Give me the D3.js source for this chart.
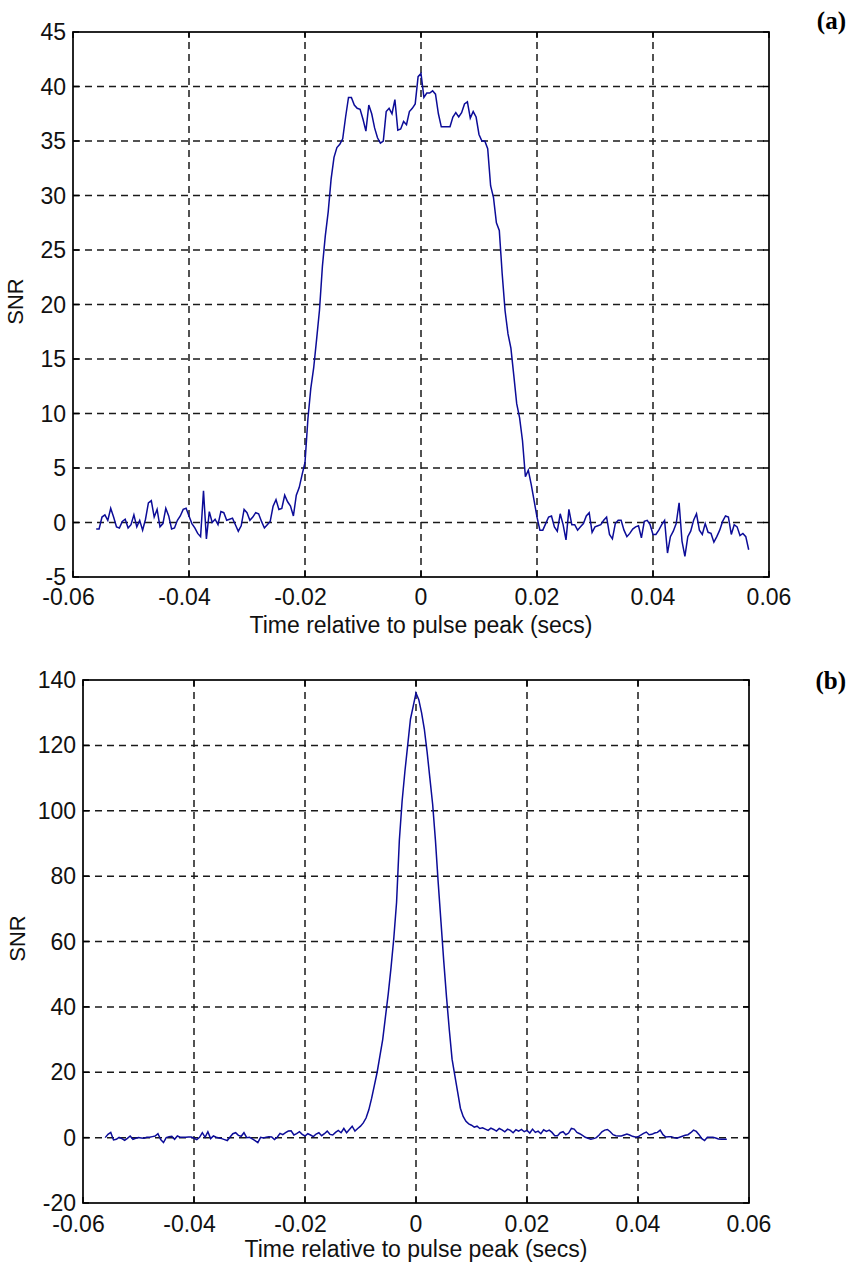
<!DOCTYPE html>
<html><head><meta charset="utf-8">
<script src="https://cdn.jsdelivr.net/npm/d3@7/dist/d3.min.js"></script>
<style>body{margin:0;background:#fff;} svg{display:block;}</style>
</head><body>
<svg id="c" width="850" height="1265"></svg>
<script>
// sampling of the time axis (secs)
const tStart = -0.056, tStep = 0.0005;

// panel (a) SNR samples
const snrA = [
-0.6,-0.6,0.5,0.7,0.2,1.3,0.5,-0.4,-0.5,0.1,
0.3,-0.5,-0.2,0.7,-0.4,0.2,-0.7,0.3,1.8,2.0,
0.5,1.2,-0.4,-0.1,1.3,0.6,-0.6,-0.5,0.2,0.6,
1.2,1.3,0.6,-0.1,-0.5,-1.0,-1.3,2.9,-1.5,1.0,
0.0,0.3,-0.2,1.0,0.9,0.2,0.3,0.4,-0.2,-0.8,
-0.3,1.2,0.9,0.2,0.5,0.9,0.8,0.1,-0.5,-0.2,
0.1,1.5,2.1,1.2,1.3,2.5,1.9,1.5,0.6,2.5,
3.2,4.4,5.5,9.5,12.3,14.2,16.8,19.5,23.5,26.3,
28.5,31.5,33.5,34.4,34.7,35.2,37.2,39.0,39.0,38.3,
38.0,37.9,37.0,35.9,38.3,37.5,36.2,35.3,34.8,35.0,
37.7,38.0,37.5,38.8,36.0,36.1,36.8,36.5,37.7,38.0,
38.4,40.9,41.2,39.0,39.4,39.4,39.6,39.3,37.5,36.3,
36.3,36.3,36.3,37.2,37.6,37.2,37.6,38.4,38.6,37.1,
37.7,37.2,35.6,35.0,35.0,34.3,30.9,29.8,27.5,26.8,
22.8,19.4,17.3,16.0,13.5,10.9,9.6,7.5,4.2,4.8,
3.5,2.0,0.5,-0.7,-0.7,-0.1,0.5,0.6,-0.4,-0.8,
0.8,-0.2,-1.6,1.2,-0.2,-0.2,-0.7,-0.4,-0.1,0.6,
0.9,-0.9,-0.4,-0.3,-0.2,0.2,0.5,-1.1,-1.5,-0.1,
0.2,0.2,-0.7,-1.3,-1.0,-0.6,-0.4,-0.3,-1.4,0.1,
0.2,-0.2,-1.1,-1.1,-0.7,-0.2,0.2,-2.8,-1.3,-0.8,
-0.1,1.8,-1.7,-3.1,-1.3,-0.8,0.2,0.8,-0.7,-1.1,
-0.1,-0.9,-1.0,-1.8,-1.3,-0.7,0.1,0.6,0.5,-1.1,
-0.2,-0.4,-1.2,-1.0,-1.3,-2.5
];

// panel (b) SNR samples
const snrB = [
0.0,1.0,1.6,-0.7,-0.5,0.1,-0.3,-0.8,-0.2,0.5,
-0.5,-0.2,0.0,-0.1,-0.2,0.1,0.1,0.3,0.5,1.2,
-0.6,-1.5,0.0,0.3,0.4,-0.5,0.5,0.1,0.1,0.1,
0.2,0.2,-0.2,-0.6,0.1,1.5,0.1,1.8,-0.3,0.5,
0.1,-0.1,-0.3,-0.6,-0.9,0.2,1.2,1.5,0.7,0.4,
1.5,0.0,0.1,-0.4,-0.9,-1.5,0.1,-0.1,0.1,0.3,
0.2,-0.6,0.1,1.3,0.9,1.5,2.0,2.1,0.8,1.2,
1.8,1.0,0.5,1.2,0.8,0.3,1.1,1.5,0.6,1.2,
2.0,1.0,0.8,1.6,2.2,1.5,2.8,1.5,2.5,3.5,
2.0,2.8,3.5,4.5,6.0,8.5,12,16,20,25,
30,37,44,52,61,72,91,103,112,120,
128,132,136,134,130,125,118,110,102,91,
78,66,54,43,33,24,19,14,9,6.5,
5.0,4.2,3.8,3.2,3.5,2.8,3.0,2.6,2.2,2.9,
2.5,2.0,2.8,2.4,1.8,2.6,2.2,1.5,2.4,2.0,
2.5,1.8,2.2,1.4,2.6,1.6,2.0,1.2,2.4,1.9,
2.3,1.6,0.6,0.6,1.5,1.8,0.9,1.4,2.8,2.6,
1.6,1.2,0.7,0.1,-0.2,-0.5,-0.3,0.0,0.8,1.8,
2.3,2.5,1.8,0.9,0.6,0.5,0.5,0.8,1.1,0.8,
0.4,0.2,0.2,0.8,1.3,1.7,0.9,1.0,1.4,1.6,
2.3,0.9,0.2,0.3,0.3,0.0,-0.2,0.1,0.4,0.7,
0.9,1.5,2.3,1.9,0.9,-0.3,-0.9,0.1,0.1,0.1,
-0.1,-0.4,-0.5,-0.5,-0.5
];

const xTicks = [-0.06,-0.04,-0.02,0,0.02,0.04,0.06];
const xTickLabels = ["-0.06","-0.04","-0.02","0","0.02","0.04","0.06"];
const yTicksA = [-5,0,5,10,15,20,25,30,35,40,45];
const yTickLabelsA = ["-5","0","5","10","15","20","25","30","35","40","45"];
const yTicksB = [-20,0,20,40,60,80,100,120,140];
const yTickLabelsB = ["-20","0","20","40","60","80","100","120","140"];
const xTitle = "Time relative to pulse peak (secs)";
const yTitle = "SNR";
const panelLabels = ["(a)", "(b)"];

const svg = d3.select("#c");
const FONT = "'Liberation Sans', Arial, sans-serif";
const LINE = "#0c0c98";

function panel(cfg) {
  const {vals, yTicks, yLabels, box, label, labelY} = cfg;
  const x = d3.scaleLinear().domain([xTicks[0], xTicks[xTicks.length-1]]).range([box.x0, box.x1]);
  const y = d3.scaleLinear().domain([yTicks[0], yTicks[yTicks.length-1]]).range([box.y1, box.y0]);
  const g = svg.append("g");

  // grid
  g.selectAll(".gx").data(xTicks.slice(1, -1)).join("line")
    .attr("x1", d => x(d)).attr("x2", d => x(d))
    .attr("y1", box.y1).attr("y2", box.y0)
    .attr("stroke", "#1a1a1a").attr("stroke-width", 1.5).attr("stroke-dasharray", "7,5");
  g.selectAll(".gy").data(yTicks.slice(1, -1)).join("line")
    .attr("x1", box.x0).attr("x2", box.x1)
    .attr("y1", d => y(d)).attr("y2", d => y(d))
    .attr("stroke", "#1a1a1a").attr("stroke-width", 1.5).attr("stroke-dasharray", "7,5");

  // inner ticks
  const tl = 6;
  xTicks.forEach(d => {
    g.append("line").attr("x1", x(d)).attr("x2", x(d)).attr("y1", box.y1).attr("y2", box.y1 - tl).attr("stroke", "#000").attr("stroke-width", 1.5);
    g.append("line").attr("x1", x(d)).attr("x2", x(d)).attr("y1", box.y0).attr("y2", box.y0 + tl).attr("stroke", "#000").attr("stroke-width", 1.5);
  });
  yTicks.forEach(d => {
    g.append("line").attr("x1", box.x0).attr("x2", box.x0 + tl).attr("y1", y(d)).attr("y2", y(d)).attr("stroke", "#000").attr("stroke-width", 1.5);
    g.append("line").attr("x1", box.x1).attr("x2", box.x1 - tl).attr("y1", y(d)).attr("y2", y(d)).attr("stroke", "#000").attr("stroke-width", 1.5);
  });

  // data line
  const line = d3.line().x((d, i) => x(tStart + i * tStep)).y(d => y(d));
  g.append("path").datum(vals).attr("d", line)
    .attr("fill", "none").attr("stroke", LINE).attr("stroke-width", 1.5).attr("stroke-linejoin", "miter");

  // box
  g.append("rect").attr("x", box.x0).attr("y", box.y0)
    .attr("width", box.x1 - box.x0).attr("height", box.y1 - box.y0)
    .attr("fill", "none").attr("stroke", "#000").attr("stroke-width", 1.7);

  // tick labels
  g.selectAll(".xl").data(xTicks).join("text")
    .attr("x", (d) => x(d)).attr("dx", (d, i) => xTickLabels[i].startsWith("-") ? -4.5 : 0)
    .attr("y", box.y1 + cfg.xlOff)
    .attr("text-anchor", "middle").attr("font-family", FONT).attr("font-size", 23).attr("fill", "#111")
    .text((d, i) => xTickLabels[i]);
  g.selectAll(".yl").data(yTicks).join("text")
    .attr("x", box.x0 - 7).attr("y", d => y(d) + 8)
    .attr("text-anchor", "end").attr("font-family", FONT).attr("font-size", 23).attr("fill", "#111")
    .text((d, i) => yLabels[i]);

  // titles
  g.append("text").attr("x", (box.x0 + box.x1) / 2).attr("y", box.y1 + cfg.xtOff)
    .attr("text-anchor", "middle").attr("font-family", FONT).attr("font-size", 23).attr("fill", "#111")
    .text(xTitle);
  g.append("text").attr("transform", `translate(${cfg.ytX},${(box.y0 + box.y1) / 2 - 3}) rotate(-90)`)
    .attr("text-anchor", "middle").attr("font-family", FONT).attr("font-size", 22).attr("fill", "#111")
    .text(yTitle);

  // panel label
  g.append("text").attr("x", 846).attr("y", labelY)
    .attr("text-anchor", "end").attr("font-family", "'Liberation Serif','Times New Roman',serif")
    .attr("font-weight", "bold").attr("font-size", 25).attr("fill", "#000").text(label);
}

panel({vals: snrA, yTicks: yTicksA, yLabels: yTickLabelsA,
  box: {x0: 73, x1: 769, y0: 32, y1: 577}, label: panelLabels[0], labelY: 29,
  xlOff: 28, xtOff: 56, ytX: 23});
panel({vals: snrB, yTicks: yTicksB, yLabels: yTickLabelsB,
  box: {x0: 83, x1: 749, y0: 680, y1: 1203}, label: panelLabels[1], labelY: 689,
  xlOff: 29, xtOff: 54, ytX: 25});
</script>
</body></html>
